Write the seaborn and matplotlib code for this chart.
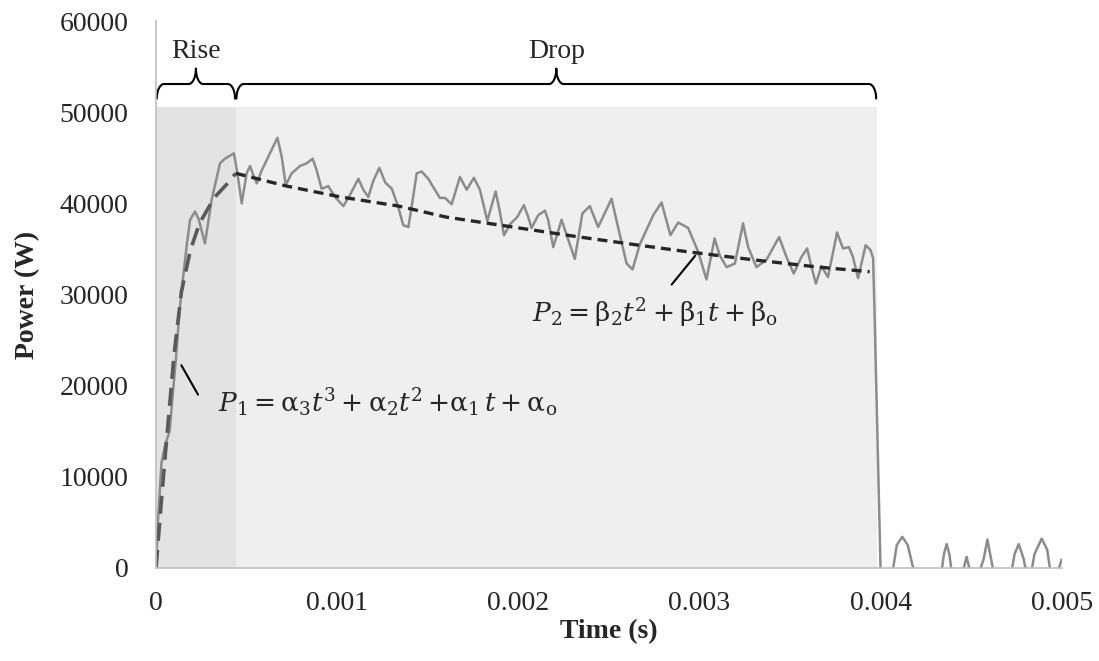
import numpy as np
import pandas as pd
import matplotlib
matplotlib.use('Agg')
import matplotlib.pyplot as plt
import seaborn as sns


time_s = [0, 0.00001, 0.00003, 0.00005, 0.000075, 0.00009, 0.00011, 0.00013, 0.00015, 0.00017,
          0.000188, 0.000215, 0.000235, 0.00027, 0.000307, 0.000353, 0.00038, 0.00043, 0.000449, 0.000473,
          0.0005, 0.000519, 0.000537, 0.000556, 0.000583, 0.000629, 0.00067, 0.000694, 0.000716, 0.000749,
          0.000795, 0.000832, 0.000865, 0.000887, 0.000914, 0.000951, 0.000988, 0.001034, 0.00107, 0.001117,
          0.001144, 0.001172, 0.0012, 0.001233, 0.001265, 0.001302, 0.001337, 0.001365, 0.001393, 0.001411,
          0.001439, 0.001466, 0.001503, 0.00153, 0.001567, 0.001595, 0.001632, 0.001678, 0.001715, 0.001755,
          0.001788, 0.001829, 0.001875, 0.0019, 0.001921, 0.001954, 0.001994, 0.002031, 0.002055, 0.002073,
          0.00211, 0.002147, 0.002165, 0.002193, 0.002239, 0.002276, 0.002312, 0.002354, 0.002395, 0.002441,
          0.002515, 0.00256, 0.002598, 0.002631, 0.002671, 0.002745, 0.002791, 0.00284, 0.002883, 0.002938,
          0.002993, 0.003039, 0.003084, 0.003112, 0.00315, 0.003196, 0.003241, 0.003269, 0.003315, 0.00337,
          0.00344, 0.003481, 0.003521, 0.003563, 0.003595, 0.003619, 0.003643, 0.003674, 0.00371, 0.00376,
          0.003793, 0.003826, 0.003848, 0.003876, 0.003918, 0.003944, 0.003959, 0.003968, 0.004, 0.00403,
          0.00407, 0.00409, 0.00412, 0.00415, 0.00418, 0.0042, 0.00432, 0.00435, 0.004365, 0.00438,
          0.0044, 0.00446, 0.004475, 0.00449, 0.00452, 0.00457, 0.00459, 0.00461, 0.00464, 0.00471,
          0.00474, 0.004763, 0.00479, 0.00482, 0.00485, 0.00489, 0.00492, 0.00495, 0.00497, 0.005]
power_w = [0, 5000, 11500, 13500, 15000, 18500, 23000, 28300, 32000, 35500,
           38200, 39100, 38300, 35600, 40400, 44400, 44900, 45500, 43300, 40000,
           43300, 44100, 43100, 42200, 43600, 45500, 47200, 45100, 42000, 43300,
           44100, 44400, 44900, 43600, 41600, 41900, 40700, 39700, 40900, 42700,
           41500, 40700, 42500, 43900, 42300, 41600, 39600, 37600, 37400, 39600,
           43300, 43500, 42700, 41800, 40600, 40600, 39900, 42900, 41500, 42800,
           41500, 38100, 41300, 38900, 36500, 37700, 38500, 39800, 38500, 37300,
           38700, 39200, 38200, 35200, 38200, 36000, 33900, 38900, 39700, 37400,
           40500, 36600, 33400, 32750, 35500, 38700, 40100, 36500, 37900, 37300,
           34700, 31650, 36150, 34300, 33000, 33400, 37800, 35200, 33000, 33800,
           36300, 34100, 32300, 34100, 35050, 33000, 31200, 33100, 31900, 36800,
           35050, 35200, 34100, 31800, 35400, 34900, 34000, 27200, 0, -3000,
           0, 2500, 3400, 2500, 0, -3000, -3000, 1500, 2600, 1500,
           -1500, 0, 1200, 0, -2000, 1000, 3100, 1000, -2000, -2000,
           1500, 2600, 1000, -2000, 1500, 3200, 2000, -2000, -1000, 900]

# Fitted curves
rise_fit_t = [0, 0.00003, 0.00005, 0.0001, 0.00014, 0.00019, 0.00024, 0.00032, 0.0004, 0.00044]
rise_fit_p = [0, 7500, 12200, 23500, 30300, 34900, 37800, 40600, 42300, 43300]
drop_fit_t = [0.00044, 0.00072, 0.00102, 0.00134, 0.0016, 0.00197, 0.00234, 0.00267, 0.00293, 0.0033, 0.00366, 0.00394]
drop_fit_p = [43300, 41900, 40700, 39700, 38500, 37400, 36300, 35400, 34700, 33800, 33000, 32500]

# Phases
phase_names = ['Rise', 'Drop']
phase_start = [0, 0.00044]
phase_end = [0.00044, 0.00398]
phase_colors = ['#e3e3e3', '#efefef']
shade_top = 50600

x_ticks = [0, 0.001, 0.002, 0.003, 0.004, 0.005]
x_labels = ['0', '0.001', '0.002', '0.003', '0.004', '0.005']
y_ticks = [0, 10000, 20000, 30000, 40000, 50000, 60000]

df = pd.DataFrame({'Time': time_s, 'Power': power_w})
rise_df = pd.DataFrame({'Time': rise_fit_t, 'Power': rise_fit_p})
drop_df = pd.DataFrame({'Time': drop_fit_t, 'Power': drop_fit_p})

sns.set_style('white')
plt.rcParams['font.family'] = ['Liberation Serif', 'DejaVu Serif']
plt.rcParams['mathtext.fontset'] = 'dejavuserif'

fig, ax = plt.subplots(figsize=(10.99, 6.61), dpi=100)
fig.subplots_adjust(left=0.142, right=0.966, bottom=0.141, top=0.968)

for s, e, c in zip(phase_start, phase_end, phase_colors):
    ax.fill_between([s, e], 0, shade_top, color=c, lw=0, zorder=0)

sns.lineplot(data=df, x='Time', y='Power', ax=ax, color='#8c8c8c', linewidth=1.8, sort=False)
sns.lineplot(data=rise_df, x='Time', y='Power', ax=ax, color='#595959', linewidth=2.6,
             linestyle=(0, (5, 2.5)), sort=False)
sns.lineplot(data=drop_df, x='Time', y='Power', ax=ax, color='#262626', linewidth=2.4,
             linestyle=(0, (3, 1.8)), sort=False)

# Curly braces over each phase
y_end, y_mid, y_tip = 51500, 53100, 54800
q = np.linspace(0, np.pi / 2, 15)
for name, s, e in zip(phase_names, phase_start, phase_end):
    s2 = s + 0.000004
    e2 = e - 0.000004
    m = (s2 + e2) / 2
    d = 0.00004
    xs = np.concatenate([s2 + d * (1 - np.cos(q)),
                         m - d + d * np.sin(q),
                         m + d * (1 - np.cos(q)),
                         e2 - d + d * np.sin(q)])
    ys = np.concatenate([y_end + (y_mid - y_end) * np.sin(q),
                         y_mid + (y_tip - y_mid) * (1 - np.cos(q)),
                         y_tip - (y_tip - y_mid) * np.sin(q),
                         y_mid - (y_mid - y_end) * (1 - np.cos(q))])
    ax.plot(xs, ys, color='black', lw=1.5, clip_on=False)
    ax.text(m, 56700, name, ha='center', va='center', fontsize=20)

# Equation labels
ax.annotate('', xy=(0.000132, 22500), xytext=(0.000239, 18750),
            arrowprops=dict(arrowstyle='-', color='black', lw=1.5))
ax.text(0.000342, 18100, r'$P_1 = \mathrm{\alpha}_3t^3 + \mathrm{\alpha}_2t^2\,{+}\mathrm{\alpha}_1\,t + \mathrm{\alpha}_\mathrm{o}$',
        ha='left', va='center', fontsize=19)
ax.annotate('', xy=(0.002987, 34500), xytext=(0.002837, 30850),
            arrowprops=dict(arrowstyle='-', color='black', lw=1.5))
ax.text(0.002075, 27900, r'$P_2 = \mathrm{\beta}_2t^2 + \mathrm{\beta}_1t + \mathrm{\beta}_\mathrm{o}$',
        ha='left', va='center', fontsize=19)

ax.set_xlim(0, 0.005)
ax.set_ylim(0, 60000)
ax.set_xticks(x_ticks)
ax.set_xticklabels(x_labels)
ax.set_yticks(y_ticks)
ax.tick_params(axis='both', length=0, labelsize=20)
ax.tick_params(axis='y', pad=20)
ax.tick_params(axis='x', pad=17)
for side in ['top', 'right']:
    ax.spines[side].set_visible(False)
for side in ['left', 'bottom']:
    ax.spines[side].set_color('#bfbfbf')
    ax.spines[side].set_linewidth(1.2)

ax.set_xlabel('Time (s)', fontsize=20, fontweight='bold', labelpad=2)
ax.set_ylabel('Power (W)', fontsize=20, fontweight='bold')
ax.yaxis.set_label_coords(-0.128, 0.5)

plt.savefig('out.png', dpi=100)
